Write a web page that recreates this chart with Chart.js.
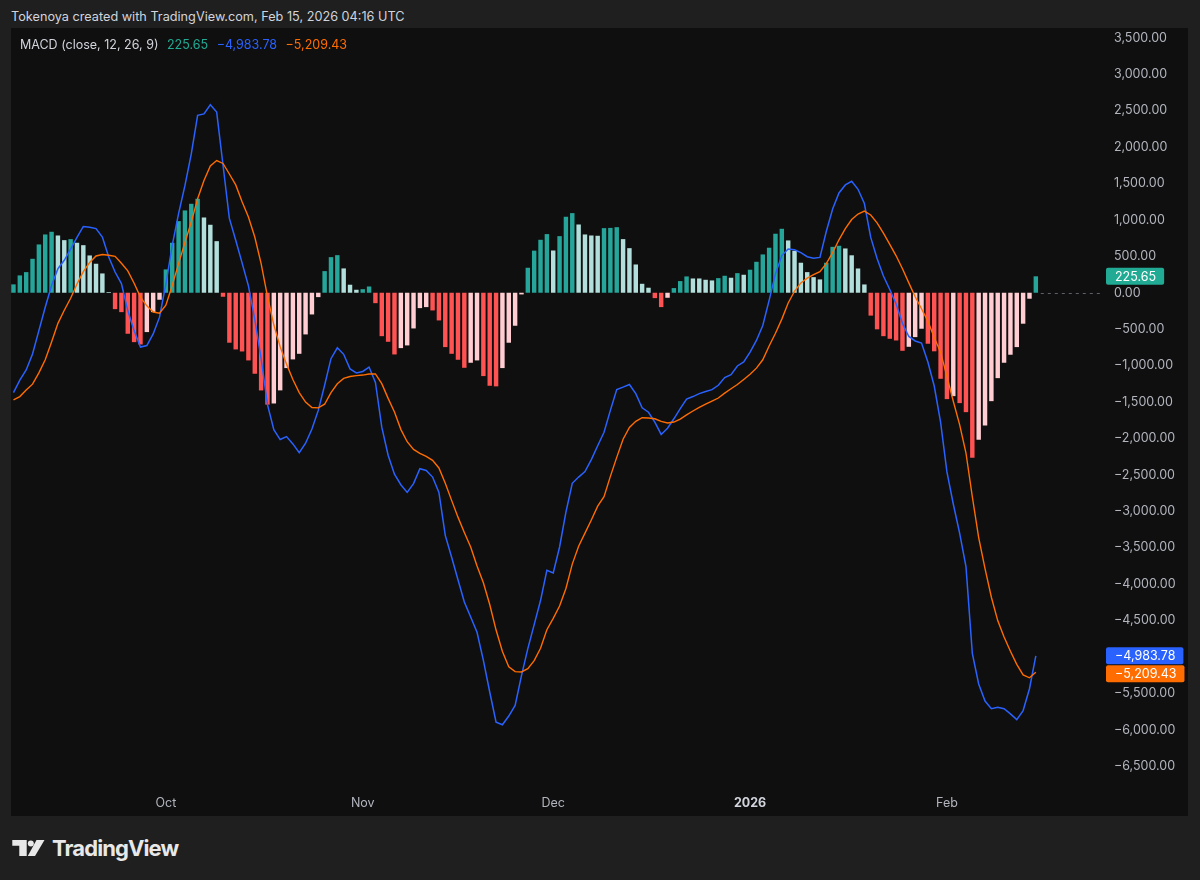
<!DOCTYPE html>
<html>
<head>
<meta charset="utf-8">
<title>MACD</title>
<script src="https://cdn.jsdelivr.net/npm/chart.js@4.4.1/dist/chart.umd.min.js"></script>
<style>
  html, body { margin: 0; padding: 0; }
  body { width: 1200px; height: 880px; background: #1f1f1f; overflow: hidden; position: relative; font-family: Inter, "Noto Sans", sans-serif; }
  #header { position: absolute; left: 11px; top: 9px; font-size: 12.7px; color: #d1d4dc; white-space: nowrap; }
  #panel { position: absolute; left: 11px; top: 28px; width: 1177px; height: 788px; background: #0f0f0f; }
  #chartBox { position: absolute; left: 0; top: 0; width: 1177px; height: 788px; }
  #legend { position: absolute; left: 9px; top: 9px; font-size: 12.5px; color: #d1d4dc; white-space: nowrap; }
  #legend span { margin-right: 5px; }
  #logo { position: absolute; left: 11px; top: 836px; height: 26px; color: #e8e8e8; white-space: nowrap; }
  #logo svg { position: absolute; left: 0; top: 3px; }
  #logo span { position: absolute; left: 41px; top: -1px; font-size: 22px; font-weight: 700; letter-spacing: -0.9px; }
</style>
</head>
<body>
<div id="header">Tokenoya created with TradingView.com, Feb 15, 2026 04:16 UTC</div>
<div id="panel">
  <div id="chartBox"><canvas id="macdChart"></canvas></div>
  <div id="legend"><span>MACD (close, 12, 26, 9)</span> <span id="lgHist" style="color:#22ab94"></span> <span id="lgMacd" style="color:#2962ff"></span> <span id="lgSignal" style="color:#ff6d00"></span></div>
</div>
<div id="logo">
  <svg width="36" height="18" viewBox="0 0 36 18">
    <path d="M1.3 1h14.4v16h-7.4v-10.3h-7z" fill="#e8e8e8"/>
    <circle cx="19.8" cy="4.4" r="3" fill="#e8e8e8"/>
    <path d="M25.5 1h8l-9.5 16h-7.2z" fill="#e8e8e8"/>
  </svg>
  <span>TradingView</span>
</div>

<script>
// daily bars, 7 Sep 2025 .. 15 Feb 2026 (162 bars)
var tickIdx = [24, 55, 85, 116, 147];
var tickLabels = ["Oct", "Nov", "Dec", "2026", "Feb"];
var yTicks = [3500, 3000, 2500, 2000, 1500, 1000, 500, 0, -500, -1000, -1500, -2000,
    -2500, -3000, -3500, -4000, -4500, -5000, -5500, -6000, -6500];

var histValues = [
    115, 238, 283, 466, 663, 800, 837, 786, 722, 736,
    686, 653, 512, 398, 265, 10, -225, -266, -563, -678,
    -710, -540, -266, -96, 320, 686, 983, 1130, 1221, 1290,
    1033, 933, 708, -55, -686, -778, -806, -929, -1112, -1341,
    -1536, -1520, -1340, -1034, -915, -838, -572, -298, -60, 297,
    489, 516, 334, 110, 41, 49, 86, -143, -596, -673,
    -847, -760, -723, -490, -211, -197, -243, -380, -746, -838,
    -920, -1030, -961, -929, -1144, -1277, -1285, -1034, -686, -453,
    -23, 343, 578, 727, 805, 580, 777, 1043, 1093, 937,
    800, 786, 782, 887, 890, 900, 736, 612, 388, 123,
    69, -74, -197, -69, 64, 160, 224, 196, 196, 178,
    169, 201, 233, 206, 269, 247, 316, 425, 526, 618,
    810, 878, 718, 576, 412, 283, 214, 183, 412, 630,
    645, 608, 514, 333, 114, -314, -502, -596, -632, -655,
    -797, -742, -609, -494, -700, -804, -1181, -1460, -1419, -1515,
    -1639, -2265, -2018, -1821, -1488, -1172, -961, -851, -746, -425,
    -82, 225.65
];

var macdLine = [
    -1370, -1200, -1060, -840, -520, -200, 100, 330, 445, 600,
    760, 910, 900, 880, 765, 490, 285, 125, -245, -520,
    -745, -725, -565, -335, 120, 650, 1085, 1470, 1905, 2435,
    2455, 2580, 2480, 1750, 1020, 720, 410, 95, -365, -905,
    -1535, -1880, -2015, -1975, -2075, -2195, -2065, -1870, -1615, -1270,
    -905, -755, -845, -1045, -1100, -1080, -1020, -1230, -1845, -2230,
    -2490, -2635, -2740, -2620, -2415, -2440, -2530, -2740, -3330, -3630,
    -3940, -4245, -4450, -4660, -5045, -5480, -5895, -5930, -5810, -5665,
    -5255, -4885, -4555, -4225, -3810, -3845, -3490, -3010, -2615, -2530,
    -2455, -2290, -2100, -1915, -1615, -1330, -1295, -1260, -1385, -1580,
    -1640, -1775, -1945, -1860, -1730, -1590, -1460, -1425, -1385, -1355,
    -1330, -1270, -1165, -1125, -1005, -950, -815, -655, -450, -105,
    260, 510, 600, 590, 550, 495, 475, 485, 840, 1150,
    1370, 1480, 1530, 1420, 1225, 760, 470, 230, 45, -155,
    -420, -600, -662, -690, -950, -1280, -1775, -2460, -2900, -3300,
    -3760, -4950, -5370, -5605, -5710, -5690, -5710, -5780, -5860, -5735,
    -5435, -4983.78
];

var signalLine = [
    -1470, -1425, -1335, -1255, -1100, -920, -675, -420, -240, -75,
    120, 290, 415, 505, 525, 515, 500, 405, 300, 130,
    -60, -180, -265, -280, -170, 100, 400, 690, 970, 1290,
    1540, 1740, 1815, 1775, 1630, 1480, 1250, 1040, 765, 400,
    -50, -440, -740, -980, -1190, -1370, -1500, -1575, -1580, -1530,
    -1370, -1250, -1175, -1150, -1137, -1130, -1115, -1115, -1248, -1450,
    -1637, -1875, -2045, -2150, -2205, -2245, -2300, -2405, -2615, -2850,
    -3080, -3290, -3490, -3750, -3980, -4280, -4630, -4925, -5135, -5200,
    -5205, -5160, -5050, -4880, -4625, -4470, -4300, -4060, -3725, -3480,
    -3300, -3120, -2930, -2800, -2520, -2260, -2010, -1850, -1765, -1715,
    -1720, -1730, -1765, -1787, -1775, -1735, -1677, -1623, -1575, -1530,
    -1488, -1445, -1378, -1318, -1260, -1190, -1120, -1035, -920, -730,
    -556, -362, -140, 20, 135, 200, 248, 290, 400, 550,
    727, 880, 1005, 1080, 1120, 1068, 960, 818, 665, 507,
    329, 135, -55, -220, -390, -615, -815, -1150, -1490, -1810,
    -2200, -2800, -3360, -3786, -4180, -4500, -4725, -4922, -5100, -5245,
    -5285, -5209.43
];

function fmt(v) {
    var s = Math.abs(v).toLocaleString("en-US", { minimumFractionDigits: 2, maximumFractionDigits: 2 });
    return (v < 0 ? "\u2212" : "") + s;
}

// TradingView style histogram colours: rising / falling above and below zero
function histColors() {
    return histValues.map(function (v, i) {
        var prev = i > 0 ? histValues[i - 1] : -Infinity;
        if (v >= 0) return v > prev ? "#26a69a" : "#b2dfdb";
        return v < prev ? "#ff5252" : "#ffcdd2";
    });
}

var overlay = {
    id: "overlay",
    afterDatasetsDraw: function (chart) {
        var c = chart.ctx, xs = chart.scales.x, ys = chart.scales.y;
        var y0 = Math.round(ys.getPixelForValue(0)) + 0.5;
        c.save();
        c.strokeStyle = "#5d606b";
        c.lineWidth = 1;
        c.setLineDash([3, 4]);
        c.beginPath();
        c.moveTo(xs.getPixelForValue(histValues.length - 1) + 5, y0);
        c.lineTo(chart.chartArea.right, y0);
        c.stroke();
        c.restore();
    },
    afterDraw: function (chart) {
        var c = chart.ctx, ys = chart.scales.y, n = histValues.length - 1;
        var left = chart.chartArea.right + 5;
        var items = [[histValues[n], "#22ab94"], [macdLine[n], "#2962ff"], [signalLine[n], "#ff6d00"]]
            .map(function (it) { return { v: it[0], col: it[1], y: ys.getPixelForValue(it[0]) }; })
            .sort(function (a, b) { return a.y - b.y; });
        var prevBottom = -1e9;
        c.save();
        c.font = "12.5px Inter";
        c.textBaseline = "middle";
        c.textAlign = "left";
        items.forEach(function (it) {
            var top = Math.max(it.y - 8.5, prevBottom + 1);
            var txt = fmt(it.v);
            var w = c.measureText(txt).width + 17;
            c.fillStyle = it.col;
            c.beginPath();
            c.roundRect(left, top, w, 17, 2);
            c.fill();
            c.fillStyle = "#ffffff";
            c.fillText(txt, left + 9, top + 9);
            prevBottom = top + 17;
        });
        c.restore();
    }
};

function macdChart() {
    var ctx = document.getElementById("macdChart");
    var n = histValues.length;
    var chart = new Chart(ctx, {
        type: "bar",
        data: {
            datasets: [{
                type: "line",
                label: "Signal",
                data: signalLine.map(function (v, i) { return { x: i, y: v }; }),
                borderColor: "#ff6d00",
                borderWidth: 1.4,
                pointRadius: 0,
                tension: 0,
                order: 1
            }, {
                type: "line",
                label: "MACD",
                data: macdLine.map(function (v, i) { return { x: i, y: v }; }),
                borderColor: "#2962ff",
                borderWidth: 1.5,
                pointRadius: 0,
                tension: 0,
                order: 2
            }, {
                type: "bar",
                label: "Histogram",
                data: histValues.map(function (v, i) { return { x: i, y: v }; }),
                backgroundColor: histColors(),
                barPercentage: 1,
                categoryPercentage: 0.7,
                order: 3
            }]
        },
        options: {
            responsive: true,
            maintainAspectRatio: false,
            animation: false,
            layout: { padding: 0 },
            plugins: { legend: { display: false }, tooltip: { enabled: false } },
            scales: {
                x: {
                    type: "linear",
                    offset: false,
                    min: -0.39,
                    max: (1090 / 6.35) - 0.39,
                    grid: { display: false, drawTicks: false },
                    border: { display: false },
                    afterBuildTicks: function (s) {
                        s.ticks = tickIdx.map(function (v) { return { value: v }; });
                    },
                    afterFit: function (s) {
                        s.height = 28;
                        s.paddingLeft = 0;
                        s.paddingRight = 0;
                    },
                    ticks: {
                        autoSkip: false,
                        maxRotation: 0,
                        padding: 8,
                        color: function (c) { return tickLabels[c.index] === "2026" ? "#d1d4dc" : "#b2b5be"; },
                        font: function (c) {
                            return tickLabels[c.index] === "2026"
                                ? { family: "Inter", size: 12.5, weight: "bold" }
                                : { family: "Inter", size: 12.5 };
                        },
                        callback: function (v) { return tickLabels[tickIdx.indexOf(v)]; }
                    }
                },
                y: {
                    position: "right",
                    min: -6798,
                    max: 3634,
                    grid: { display: false, drawTicks: false },
                    border: { display: false },
                    afterBuildTicks: function (s) {
                        s.ticks = yTicks.map(function (v) { return { value: v }; });
                    },
                    afterFit: function (s) {
                        s.width = 87;
                        s.paddingTop = 0;
                        s.paddingBottom = 0;
                    },
                    ticks: {
                        padding: 13,
                        color: "#b2b5be",
                        font: { family: "Inter", size: 12.5 },
                        callback: function (v) { return fmt(v); }
                    }
                }
            }
        },
        plugins: [overlay]
    });

    document.getElementById("lgHist").textContent = fmt(histValues[n - 1]);
    document.getElementById("lgMacd").textContent = fmt(macdLine[n - 1]);
    document.getElementById("lgSignal").textContent = fmt(signalLine[n - 1]);
}

macdChart();
</script>
</body>
</html>
